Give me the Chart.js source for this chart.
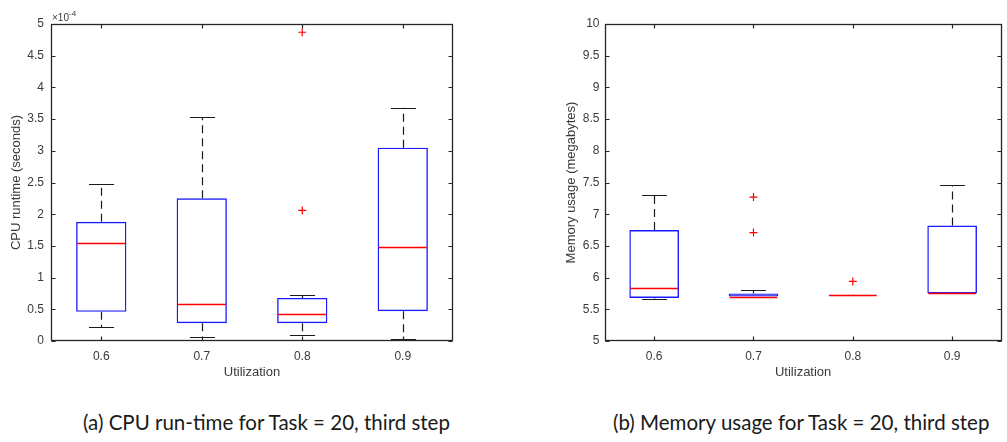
<!DOCTYPE html>
<html>
<head>
<meta charset="utf-8">
<script src="https://cdn.jsdelivr.net/npm/chart.js@4.4.1/dist/chart.umd.min.js"></script>
<style>
  html, body { margin: 0; padding: 0; background: #ffffff; width: 1007px; height: 442px; overflow: hidden; }
  canvas { position: absolute; top: 0; }
  #cpuChart { left: 0; }
  #memChart { left: 554px; }
  .caption { position: absolute; top: 409px; font-family: Lato, "Open Sans", sans-serif; font-size: 20.5px; line-height: 26px; color: #1a1a1a; white-space: nowrap; }
  #capA { left: 83px; }
  #capB { left: 613px; }
</style>
</head>
<body>
<canvas id="cpuChart" width="470" height="390"></canvas>
<canvas id="memChart" width="453" height="390"></canvas>
<div class="caption" id="capA">(a) CPU run-time for Task = 20, third step</div>
<div class="caption" id="capB">(b) Memory usage for Task = 20, third step</div>
<script>
// Utilization levels (x categories)
const categories = ['0.6', '0.7', '0.8', '0.9'];

// CPU runtime statistics, in seconds
const cpuLowerWhisker = [0.22e-4, 0.07e-4, 0.10e-4, 0.03e-4];
const cpuQ1           = [0.46e-4, 0.28e-4, 0.28e-4, 0.47e-4];
const cpuMedian       = [1.54e-4, 0.58e-4, 0.42e-4, 1.49e-4];
const cpuQ3           = [1.88e-4, 2.25e-4, 0.68e-4, 3.05e-4];
const cpuUpperWhisker = [2.48e-4, 3.53e-4, 0.72e-4, 3.68e-4];
const cpuOutlierCats  = ['0.8', '0.8'];
const cpuOutlierVals  = [4.87e-4, 2.06e-4];
const cpuTicks        = [0, 0.5e-4, 1e-4, 1.5e-4, 2e-4, 2.5e-4, 3e-4, 3.5e-4, 4e-4, 4.5e-4, 5e-4];

// Memory usage statistics, in megabytes
const memLowerWhisker = [5.67, 5.70, 5.72, 5.75];
const memQ1           = [5.68, 5.70, 5.72, 5.75];
const memMedian       = [5.83, 5.70, 5.73, 5.75];
const memQ3           = [6.75, 5.75, 5.73, 6.82];
const memUpperWhisker = [7.31, 5.80, 5.72, 7.46];
const memOutlierCats  = ['0.7', '0.7', '0.8'];
const memOutlierVals  = [7.27, 6.71, 5.94];
const memTicks        = [5, 5.5, 6, 6.5, 7, 7.5, 8, 8.5, 9, 9.5, 10];

const AXIS_COLOR = '#262626';
const TEXT_COLOR = '#3a3a3a';
const FONT = "'Liberation Sans', Arial, sans-serif";

// Whiskers, caps and median lines drawn over the box bars
const boxWhiskers = {
  id: 'boxWhiskers',
  afterDatasetsDraw(chart, args, opts) {
    const ctx = chart.ctx;
    const y = chart.scales.y;
    const meta = chart.getDatasetMeta(0);
    ctx.save();
    ctx.beginPath();
    ctx.rect(chart.chartArea.left, chart.chartArea.top, chart.chartArea.width, chart.chartArea.height);
    ctx.clip();
    meta.data.forEach((bar, i) => {
      const x = Math.round(bar.x) + 0.5;
      const half = bar.width / 2;
      const cap = bar.width / 4;
      const yLo = y.getPixelForValue(opts.lower[i]);
      const yQ1 = y.getPixelForValue(opts.q1[i]);
      const yQ3 = y.getPixelForValue(opts.q3[i]);
      const yHi = y.getPixelForValue(opts.upper[i]);
      const yMed = y.getPixelForValue(opts.median[i]);
      ctx.lineWidth = 1.2;
      ctx.strokeStyle = '#1a1a1a';
      // dashed whiskers
      ctx.setLineDash([8, 5]);
      ctx.beginPath();
      ctx.moveTo(x, yQ3); ctx.lineTo(x, yHi);
      ctx.moveTo(x, yQ1); ctx.lineTo(x, yLo);
      ctx.stroke();
      // solid caps
      ctx.setLineDash([]);
      ctx.beginPath();
      ctx.moveTo(x - cap, Math.round(yHi) + 0.5); ctx.lineTo(x + cap, Math.round(yHi) + 0.5);
      ctx.moveTo(x - cap, Math.round(yLo) + 0.5); ctx.lineTo(x + cap, Math.round(yLo) + 0.5);
      ctx.stroke();
      // median
      ctx.lineWidth = 1.5;
      ctx.strokeStyle = '#ff0000';
      ctx.beginPath();
      ctx.moveTo(bar.x - half + 1, Math.round(yMed) + 0.5);
      ctx.lineTo(bar.x + half - 1, Math.round(yMed) + 0.5);
      ctx.stroke();
    });
    ctx.restore();
  }
};

// Box frame with inward tick marks on all four sides, plus optional exponent label
const axesFrame = {
  id: 'axesFrame',
  afterDraw(chart, args, opts) {
    const ctx = chart.ctx;
    const a = chart.chartArea;
    const l = Math.round(a.left) + 0.5, r = Math.round(a.right) - 0.5;
    const t = Math.round(a.top) + 0.5, b = Math.round(a.bottom) - 0.5;
    const len = 4;
    ctx.save();
    ctx.strokeStyle = AXIS_COLOR;
    ctx.lineWidth = 1.3;
    ctx.strokeRect(l, t, r - l, b - t);
    ctx.lineWidth = 1.2;
    ctx.beginPath();
    chart.scales.y.ticks.forEach(tk => {
      const py = Math.round(chart.scales.y.getPixelForValue(tk.value)) + 0.5;
      ctx.moveTo(l, py); ctx.lineTo(l + len, py);
      ctx.moveTo(r, py); ctx.lineTo(r - len, py);
    });
    chart.scales.x.ticks.forEach((tk, i) => {
      const px = Math.round(chart.scales.x.getPixelForValue(i)) + 0.5;
      ctx.moveTo(px, b); ctx.lineTo(px, b - len);
      ctx.moveTo(px, t); ctx.lineTo(px, t + len);
    });
    ctx.stroke();
    if (opts.exponent) {
      ctx.fillStyle = TEXT_COLOR;
      ctx.textBaseline = 'alphabetic';
      ctx.textAlign = 'left';
      ctx.font = '10px ' + FONT;
      ctx.fillText('\u00d710', a.left + 1, a.top - 3);
      const w = ctx.measureText('\u00d710').width;
      ctx.font = '8px ' + FONT;
      ctx.fillText(opts.exponent, a.left + 1 + w, a.top - 8);
    }
    ctx.restore();
  }
};

function makeChart(canvasId, cfg) {
  const boxData = categories.map((c, i) => [cfg.q1[i], cfg.q3[i]]);
  const outliers = cfg.outCats.map((c, i) => ({ x: c, y: cfg.outVals[i] }));
  return new Chart(document.getElementById(canvasId), {
    type: 'bar',
    data: {
      labels: categories,
      datasets: [
        {
          type: 'bar',
          data: boxData,
          backgroundColor: 'rgba(0,0,0,0)',
          borderColor: '#1a1aff',
          borderWidth: 1.4,
          borderSkipped: false,
          barPercentage: 0.5,
          categoryPercentage: 1.0
        },
        {
          type: 'scatter',
          data: outliers,
          pointStyle: 'cross',
          radius: 4,
          borderColor: '#ff0000',
          borderWidth: 1.2,
          backgroundColor: '#ff0000'
        }
      ]
    },
    options: {
      responsive: false,
      animation: false,
      events: [],
      layout: { padding: { top: 24, right: cfg.padRight, bottom: 0, left: 0 } },
      plugins: {
        legend: { display: false },
        tooltip: { enabled: false },
        boxWhiskers: { lower: cfg.lower, q1: cfg.q1, median: cfg.median, q3: cfg.q3, upper: cfg.upper },
        axesFrame: { exponent: cfg.exponent }
      },
      scales: {
        x: {
          type: 'category',
          grid: { display: false, drawTicks: false },
          border: { display: false },
          ticks: { color: TEXT_COLOR, font: { family: FONT, size: 12 }, padding: 8, maxRotation: 0 },
          title: { display: true, text: 'Utilization', color: TEXT_COLOR, font: { family: FONT, size: 13 }, padding: { top: 0, bottom: 10 } },
          afterFit(scale) { scale.height = 49; }
        },
        y: {
          min: cfg.ticks[0],
          max: cfg.ticks[cfg.ticks.length - 1],
          grid: { display: false, drawTicks: false },
          border: { display: false },
          afterBuildTicks(scale) { scale.ticks = cfg.ticks.map(v => ({ value: v })); },
          ticks: {
            color: TEXT_COLOR,
            font: { family: FONT, size: 12 },
            padding: cfg.tickPad,
            callback: cfg.fmt
          },
          title: { display: true, text: cfg.yTitle, color: TEXT_COLOR, font: { family: FONT, size: 13 }, padding: { top: cfg.titlePad, bottom: 0 } },
          afterFit(scale) { scale.width = cfg.yWidth; }
        }
      }
    },
    plugins: [boxWhiskers, axesFrame]
  });
}

makeChart('cpuChart', {
  lower: cpuLowerWhisker, q1: cpuQ1, median: cpuMedian, q3: cpuQ3, upper: cpuUpperWhisker,
  outCats: cpuOutlierCats, outVals: cpuOutlierVals, ticks: cpuTicks,
  fmt: v => String(Math.round(v / 1e-5) / 10),
  yTitle: 'CPU runtime (seconds)', exponent: '-4',
  yWidth: 51, padRight: 17, tickPad: 7, titlePad: 9
});

makeChart('memChart', {
  lower: memLowerWhisker, q1: memQ1, median: memMedian, q3: memQ3, upper: memUpperWhisker,
  outCats: memOutlierCats, outVals: memOutlierVals, ticks: memTicks,
  fmt: v => String(Math.round(v * 10) / 10),
  yTitle: 'Memory usage (megabytes)', exponent: null,
  yWidth: 50.5, padRight: 0.5, tickPad: 5, titlePad: 10
});
</script>
</body>
</html>
